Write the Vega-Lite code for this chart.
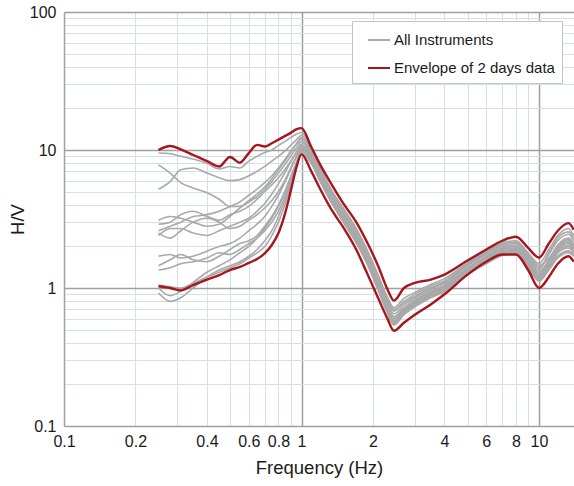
{
  "$schema": "https://vega.github.io/schema/vega-lite/v6.json",
  "width": 510,
  "height": 414,
  "autosize": {"type": "none"},
  "padding": {"left": 64, "top": 12, "right": 0, "bottom": 60},
  "background": "white",
  "config": {
    "font": "Liberation Sans, Arial, sans-serif",
    "view": {"stroke": null},
    "axis": {
      "labelFont": "Liberation Sans, Arial, sans-serif",
      "titleFont": "Liberation Sans, Arial, sans-serif",
      "labelFontSize": 16,
      "titleFontSize": 18.5,
      "titleFontWeight": "normal",
      "labelColor": "#1a1a1a",
      "titleColor": "#1a1a1a",
      "ticks": false,
      "tickSize": 0,
      "domainColor": "#a0a0a0",
      "domainWidth": 1.5,
      "gridWidth": 1,
      "labelOverlap": false,
      "labelFlush": false,
      "labelBound": false
    },
    "legend": {
      "labelFont": "Liberation Sans, Arial, sans-serif",
      "labelFontSize": 15,
      "labelColor": "#1a1a1a",
      "labelLimit": 300
    }
  },
  "data": {
    "values": [
      {"f": 0.25, "U": 10.0, "L": 1.03, "g1": 9.5, "g2": 7.8, "g3": 5.2, "g4": 3.1, "g5": 2.9, "g6": 2.6, "g7": 2.4, "g8": 2.5, "g9": 1.7, "g10": 1.45, "g11": 1.35, "g12": 1.0, "g13": 0.92, "g14": 1.05},
      {"f": 0.28, "U": 10.7, "L": 1.0, "g1": 9.4, "g2": 6.8, "g3": 5.9, "g4": 3.3, "g5": 3.0, "g6": 2.8, "g7": 2.7, "g8": 2.3, "g9": 1.75, "g10": 1.6, "g11": 1.4, "g12": 0.88, "g13": 0.8, "g14": 1.02},
      {"f": 0.31, "U": 10.1, "L": 0.96, "g1": 9.0, "g2": 5.8, "g3": 7.2, "g4": 3.2, "g5": 3.4, "g6": 3.0, "g7": 2.7, "g8": 2.6, "g9": 1.65, "g10": 1.75, "g11": 1.5, "g12": 0.95, "g13": 0.85, "g14": 1.0},
      {"f": 0.35, "U": 9.2, "L": 1.05, "g1": 8.6, "g2": 5.3, "g3": 7.4, "g4": 3.0, "g5": 3.6, "g6": 3.3, "g7": 2.5, "g8": 3.0, "g9": 1.7, "g10": 1.6, "g11": 1.55, "g12": 1.1, "g13": 1.0, "g14": 1.08},
      {"f": 0.4, "U": 8.3, "L": 1.15, "g1": 8.0, "g2": 4.9, "g3": 6.8, "g4": 2.8, "g5": 3.3, "g6": 3.4, "g7": 2.4, "g8": 3.2, "g9": 1.85, "g10": 1.55, "g11": 1.65, "g12": 1.3, "g13": 1.2, "g14": 1.2},
      {"f": 0.45, "U": 7.6, "L": 1.24, "g1": 7.3, "g2": 4.4, "g3": 6.3, "g4": 2.9, "g5": 3.1, "g6": 3.6, "g7": 2.6, "g8": 3.0, "g9": 2.0, "g10": 1.7, "g11": 1.8, "g12": 1.45, "g13": 1.35, "g14": 1.3},
      {"f": 0.5, "U": 8.9, "L": 1.35, "g1": 7.6, "g2": 3.9, "g3": 6.0, "g4": 3.3, "g5": 3.4, "g6": 3.9, "g7": 2.8, "g8": 2.7, "g9": 2.1, "g10": 1.9, "g11": 1.75, "g12": 1.6, "g13": 1.45, "g14": 1.4},
      {"f": 0.55, "U": 8.1, "L": 1.42, "g1": 7.4, "g2": 3.9, "g3": 6.1, "g4": 3.8, "g5": 3.6, "g6": 4.2, "g7": 3.0, "g8": 2.8, "g9": 2.3, "g10": 2.1, "g11": 1.9, "g12": 1.8, "g13": 1.55, "g14": 1.5},
      {"f": 0.6, "U": 9.5, "L": 1.52, "g1": 8.3, "g2": 4.3, "g3": 6.5, "g4": 4.2, "g5": 3.9, "g6": 4.7, "g7": 3.2, "g8": 3.1, "g9": 2.6, "g10": 2.2, "g11": 2.1, "g12": 2.0, "g13": 1.7, "g14": 1.65},
      {"f": 0.65, "U": 10.9, "L": 1.62, "g1": 9.0, "g2": 4.8, "g3": 7.0, "g4": 4.6, "g5": 4.4, "g6": 5.2, "g7": 3.6, "g8": 3.4, "g9": 2.9, "g10": 2.4, "g11": 2.3, "g12": 2.3, "g13": 1.9, "g14": 1.8},
      {"f": 0.7, "U": 10.6, "L": 1.78, "g1": 9.6, "g2": 5.4, "g3": 7.6, "g4": 5.2, "g5": 5.0, "g6": 5.8, "g7": 4.1, "g8": 3.8, "g9": 3.3, "g10": 2.8, "g11": 2.6, "g12": 2.7, "g13": 2.2, "g14": 2.0},
      {"f": 0.75, "U": 11.2, "L": 2.05, "g1": 10.0, "g2": 6.2, "g3": 8.3, "g4": 5.9, "g5": 5.6, "g6": 6.5, "g7": 4.8, "g8": 4.3, "g9": 3.9, "g10": 3.3, "g11": 3.0, "g12": 3.2, "g13": 2.6, "g14": 2.4},
      {"f": 0.8, "U": 11.9, "L": 2.5, "g1": 10.8, "g2": 7.2, "g3": 9.0, "g4": 6.8, "g5": 6.3, "g6": 7.4, "g7": 5.7, "g8": 5.0, "g9": 4.7, "g10": 4.0, "g11": 3.6, "g12": 3.9, "g13": 3.3, "g14": 3.0},
      {"f": 0.85, "U": 12.6, "L": 3.4, "g1": 11.5, "g2": 8.3, "g3": 9.8, "g4": 7.8, "g5": 7.2, "g6": 8.5, "g7": 6.8, "g8": 6.0, "g9": 5.8, "g10": 5.0, "g11": 4.6, "g12": 4.9, "g13": 4.3, "g14": 4.0},
      {"f": 0.9, "U": 13.3, "L": 5.0, "g1": 12.3, "g2": 9.6, "g3": 10.8, "g4": 9.0, "g5": 8.3, "g6": 9.8, "g7": 8.2, "g8": 7.4, "g9": 7.2, "g10": 6.4, "g11": 6.0, "g12": 6.3, "g13": 5.8, "g14": 5.5},
      {"f": 0.95, "U": 14.1, "L": 7.4, "g1": 13.0, "g2": 11.0, "g3": 11.8, "g4": 10.3, "g5": 9.6, "g6": 11.0, "g7": 9.6, "g8": 9.0, "g9": 8.8, "g10": 8.0, "g11": 7.8, "g12": 8.0, "g13": 7.6, "g14": 7.5},
      {"f": 1.0, "U": 14.4, "L": 9.3, "g1": 13.4, "g2": 12.3, "g3": 12.8, "g4": 11.5, "g5": 11.0, "g6": 12.0, "g7": 10.8, "g8": 10.5, "g9": 10.2, "g10": 9.8, "g11": 9.5, "g12": 10.0, "g13": 9.6, "g14": 9.5},
      {"f": 1.1, "U": 10.5, "L": 7.0, "g1": 10.2, "g2": 9.6, "g3": 10.0, "g4": 9.0, "g5": 8.6, "g6": 9.4, "g7": 8.9, "g8": 8.5, "g9": 8.2, "g10": 8.8, "g11": 8.0, "g12": 8.4, "g13": 8.1, "g14": 8.0},
      {"f": 1.2, "U": 7.8, "L": 5.2, "g1": 7.4, "g2": 6.9, "g3": 7.2, "g4": 6.6, "g5": 6.3, "g6": 6.9, "g7": 6.5, "g8": 6.3, "g9": 6.0, "g10": 6.5, "g11": 5.9, "g12": 6.2, "g13": 6.0, "g14": 5.9},
      {"f": 1.35, "U": 5.5, "L": 3.6, "g1": 5.0, "g2": 4.7, "g3": 4.9, "g4": 4.5, "g5": 4.3, "g6": 4.7, "g7": 4.45, "g8": 4.3, "g9": 4.1, "g10": 4.4, "g11": 4.05, "g12": 4.25, "g13": 4.1, "g14": 4.05},
      {"f": 1.5, "U": 4.1, "L": 2.75, "g1": 3.8, "g2": 3.55, "g3": 3.7, "g4": 3.4, "g5": 3.2, "g6": 3.5, "g7": 3.35, "g8": 3.2, "g9": 3.05, "g10": 3.3, "g11": 3.0, "g12": 3.15, "g13": 3.05, "g14": 3.0},
      {"f": 1.7, "U": 3.0, "L": 1.9, "g1": 2.7, "g2": 2.5, "g3": 2.6, "g4": 2.4, "g5": 2.28, "g6": 2.48, "g7": 2.35, "g8": 2.28, "g9": 2.15, "g10": 2.35, "g11": 2.12, "g12": 2.25, "g13": 2.17, "g14": 2.14},
      {"f": 1.9, "U": 2.1, "L": 1.25, "g1": 1.85, "g2": 1.73, "g3": 1.8, "g4": 1.65, "g5": 1.57, "g6": 1.7, "g7": 1.62, "g8": 1.57, "g9": 1.48, "g10": 1.6, "g11": 1.46, "g12": 1.55, "g13": 1.5, "g14": 1.48},
      {"f": 2.1, "U": 1.45, "L": 0.85, "g1": 1.25, "g2": 1.16, "g3": 1.2, "g4": 1.1, "g5": 1.05, "g6": 1.14, "g7": 1.08, "g8": 1.05, "g9": 0.99, "g10": 1.07, "g11": 0.97, "g12": 1.03, "g13": 1.0, "g14": 0.98},
      {"f": 2.3, "U": 0.98, "L": 0.6, "g1": 0.86, "g2": 0.8, "g3": 0.83, "g4": 0.75, "g5": 0.71, "g6": 0.78, "g7": 0.74, "g8": 0.71, "g9": 0.67, "g10": 0.73, "g11": 0.66, "g12": 0.7, "g13": 0.68, "g14": 0.67},
      {"f": 2.45, "U": 0.81, "L": 0.49, "g1": 0.72, "g2": 0.68, "g3": 0.7, "g4": 0.62, "g5": 0.58, "g6": 0.65, "g7": 0.6, "g8": 0.57, "g9": 0.55, "g10": 0.6, "g11": 0.54, "g12": 0.57, "g13": 0.56, "g14": 0.55},
      {"f": 2.7, "U": 1.0, "L": 0.56, "g1": 0.84, "g2": 0.78, "g3": 0.8, "g4": 0.72, "g5": 0.68, "g6": 0.75, "g7": 0.7, "g8": 0.67, "g9": 0.65, "g10": 0.7, "g11": 0.64, "g12": 0.67, "g13": 0.66, "g14": 0.65},
      {"f": 3.0, "U": 1.09, "L": 0.64, "g1": 0.93, "g2": 0.87, "g3": 0.9, "g4": 0.82, "g5": 0.78, "g6": 0.85, "g7": 0.8, "g8": 0.77, "g9": 0.74, "g10": 0.8, "g11": 0.73, "g12": 0.77, "g13": 0.76, "g14": 0.75},
      {"f": 3.5, "U": 1.15, "L": 0.76, "g1": 1.06, "g2": 1.0, "g3": 1.03, "g4": 0.95, "g5": 0.9, "g6": 0.98, "g7": 0.93, "g8": 0.9, "g9": 0.86, "g10": 0.92, "g11": 0.85, "g12": 0.89, "g13": 0.88, "g14": 0.87},
      {"f": 4.0, "U": 1.25, "L": 0.9, "g1": 1.17, "g2": 1.1, "g3": 1.13, "g4": 1.05, "g5": 1.0, "g6": 1.08, "g7": 1.03, "g8": 1.0, "g9": 0.95, "g10": 1.02, "g11": 0.94, "g12": 0.99, "g13": 0.97, "g14": 0.96},
      {"f": 5.0, "U": 1.58, "L": 1.25, "g1": 1.52, "g2": 1.47, "g3": 1.5, "g4": 1.4, "g5": 1.33, "g6": 1.45, "g7": 1.38, "g8": 1.33, "g9": 1.26, "g10": 1.37, "g11": 1.25, "g12": 1.32, "g13": 1.28, "g14": 1.27},
      {"f": 6.0, "U": 1.9, "L": 1.55, "g1": 1.85, "g2": 1.78, "g3": 1.82, "g4": 1.7, "g5": 1.62, "g6": 1.75, "g7": 1.68, "g8": 1.6, "g9": 1.53, "g10": 1.66, "g11": 1.5, "g12": 1.6, "g13": 1.56, "g14": 1.55},
      {"f": 7.0, "U": 2.2, "L": 1.75, "g1": 2.12, "g2": 2.05, "g3": 2.08, "g4": 1.95, "g5": 1.85, "g6": 2.0, "g7": 1.92, "g8": 1.83, "g9": 1.76, "g10": 1.9, "g11": 1.72, "g12": 1.84, "g13": 1.8, "g14": 1.78},
      {"f": 8.0, "U": 2.35, "L": 1.75, "g1": 2.2, "g2": 2.1, "g3": 2.15, "g4": 2.0, "g5": 1.9, "g6": 2.05, "g7": 1.95, "g8": 1.88, "g9": 1.8, "g10": 1.95, "g11": 1.78, "g12": 1.88, "g13": 1.84, "g14": 1.82},
      {"f": 9.0, "U": 1.95, "L": 1.35, "g1": 1.8, "g2": 1.7, "g3": 1.75, "g4": 1.6, "g5": 1.5, "g6": 1.65, "g7": 1.55, "g8": 1.45, "g9": 1.42, "g10": 1.58, "g11": 1.4, "g12": 1.5, "g13": 1.45, "g14": 1.48},
      {"f": 10.0, "U": 1.66, "L": 1.0, "g1": 1.5, "g2": 1.4, "g3": 1.45, "g4": 1.3, "g5": 1.2, "g6": 1.35, "g7": 1.25, "g8": 1.15, "g9": 1.15, "g10": 1.28, "g11": 1.12, "g12": 1.22, "g13": 1.18, "g14": 1.2},
      {"f": 11.0, "U": 2.1, "L": 1.2, "g1": 1.9, "g2": 1.75, "g3": 1.65, "g4": 1.6, "g5": 1.45, "g6": 1.8, "g7": 1.55, "g8": 1.4, "g9": 1.4, "g10": 1.6, "g11": 1.35, "g12": 1.5, "g13": 1.45, "g14": 1.5},
      {"f": 12.0, "U": 2.6, "L": 1.5, "g1": 2.4, "g2": 2.2, "g3": 2.0, "g4": 2.0, "g5": 1.8, "g6": 2.3, "g7": 1.95, "g8": 1.7, "g9": 1.7, "g10": 2.05, "g11": 1.65, "g12": 1.9, "g13": 1.8, "g14": 1.85},
      {"f": 13.3, "U": 2.95, "L": 1.7, "g1": 2.7, "g2": 2.45, "g3": 2.2, "g4": 2.25, "g5": 1.95, "g6": 2.55, "g7": 2.15, "g8": 1.85, "g9": 1.85, "g10": 2.3, "g11": 1.8, "g12": 2.1, "g13": 2.0, "g14": 2.05},
      {"f": 14.0, "U": 2.65, "L": 1.55, "g1": 2.4, "g2": 2.2, "g3": 2.0, "g4": 2.05, "g5": 1.8, "g6": 2.3, "g7": 1.95, "g8": 1.7, "g9": 1.75, "g10": 2.1, "g11": 1.7, "g12": 1.95, "g13": 1.85, "g14": 1.9}
    ]
  },
  "encoding": {
    "x": {
      "field": "f",
      "type": "quantitative",
      "scale": {"type": "log", "domain": [0.1, 14.04], "nice": false},
      "axis": {
        "title": "Frequency (Hz)",
        "values": [0.1, 0.2, 0.3, 0.4, 0.5, 0.6, 0.7, 0.8, 0.9, 1, 2, 3, 4, 5, 6, 7, 8, 9, 10],
        "labelExpr": "indexof([0.1, 0.2, 0.4, 0.6, 0.8, 1, 2, 4, 6, 8, 10], datum.value) >= 0 ? toString(datum.value) : ''",
        "labelPadding": 7,
        "titlePadding": 9,
        "grid": true,
        "gridColor": {"condition": {"test": "datum.value === 1 || datum.value === 10", "value": "#9f9f9f"}, "value": "#d5e0e6"},
        "gridWidth": {"condition": {"test": "datum.value === 1 || datum.value === 10", "value": 1.5}, "value": 1}
      }
    },
    "y": {
      "field": "v",
      "type": "quantitative",
      "scale": {"type": "log", "domain": [0.1, 100], "nice": false},
      "axis": {
        "title": "H/V",
        "values": [0.1, 0.2, 0.3, 0.4, 0.5, 0.6, 0.7, 0.8, 0.9, 1, 2, 3, 4, 5, 6, 7, 8, 9, 10, 20, 30, 40, 50, 60, 70, 80, 90, 100],
        "labelExpr": "indexof([0.1, 1, 10, 100], datum.value) >= 0 ? toString(datum.value) : ''",
        "labelPadding": 8,
        "titlePadding": 2,
        "grid": true,
        "gridColor": {"condition": {"test": "datum.value === 1 || datum.value === 10 || datum.value === 100", "value": "#9f9f9f"}, "value": "#d5e0e6"},
        "gridWidth": {"condition": {"test": "datum.value === 1 || datum.value === 10 || datum.value === 100", "value": 1.5}, "value": 1}
      }
    }
  },
  "layer": [
    {
      "transform": [
        {"fold": ["g1", "g2", "g3", "g4", "g5", "g6", "g7", "g8", "g9", "g10", "g11", "g12", "g13", "g14"], "as": ["series", "v"]}
      ],
      "mark": {"type": "line", "interpolate": "monotone", "strokeWidth": 1.6, "clip": true},
      "encoding": {
        "detail": {"field": "series"},
        "color": {
          "datum": "All Instruments",
          "scale": {"domain": ["All Instruments", "Envelope of 2 days data"], "range": ["#a9a9a9", "#a5161d"]},
          "legend": {
            "title": null,
            "orient": "none",
            "legendX": 288,
            "legendY": 9,
            "padding": 7,
            "rowPadding": 8,
            "strokeColor": "#c4c4c4",
            "fillColor": "white",
            "symbolType": "stroke",
            "symbolSize": 484,
            "symbolStrokeWidth": 2,
            "symbolOffset": 8,
            "labelOffset": 3,
            "labelLimit": 300
          }
        }
      }
    },
    {
      "transform": [
        {"fold": ["U", "L"], "as": ["series", "v"]}
      ],
      "mark": {"type": "line", "interpolate": "monotone", "strokeWidth": 2.4, "clip": true},
      "encoding": {
        "detail": {"field": "series"},
        "color": {"datum": "Envelope of 2 days data"}
      }
    }
  ]
}
